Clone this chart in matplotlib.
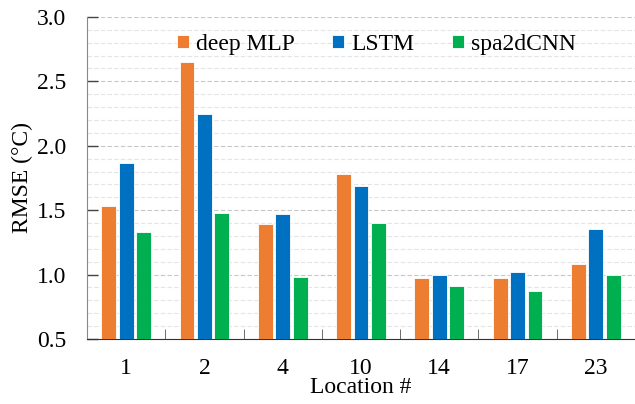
import numpy as np
import matplotlib
matplotlib.use("Agg")
import matplotlib.pyplot as plt
from matplotlib.ticker import MultipleLocator, FixedLocator

plt.rcParams['font.family'] = ['Liberation Serif', 'DejaVu Serif']

locations = ['1', '2', '4', '10', '14', '17', '23']
deep_mlp = [1.53, 2.65, 1.39, 1.78, 0.97, 0.97, 1.08]
lstm = [1.87, 2.25, 1.47, 1.69, 1.00, 1.02, 1.35]
spa2dcnn = [1.33, 1.48, 0.98, 1.40, 0.91, 0.87, 1.00]

series = [('deep MLP', deep_mlp, '#ED7D31'),
          ('LSTM', lstm, '#0070C0'),
          ('spa2dCNN', spa2dcnn, '#00B050')]

fig = plt.figure(figsize=(6.35, 4.04), dpi=100)
ax = fig.add_axes([0.137, 0.161, 0.863, 0.797])

x = np.arange(len(locations))
w = 0.19
step = 0.222
for i, (name, vals, col) in enumerate(series):
    ax.bar(x + (i - 1) * step, np.array(vals) - 0.5, w, bottom=0.5, color=col,
           edgecolor='white', linewidth=0.6, label=name, zorder=3)

ax.set_ylim(0.5, 3.0)
ax.set_xlim(-0.5, len(locations) - 0.5)
ax.yaxis.set_major_locator(MultipleLocator(0.5))
ax.yaxis.set_minor_locator(MultipleLocator(0.1))
ax.grid(which='major', axis='y', color='#c8c8c8', linestyle=(0, (4, 2)), linewidth=0.8, zorder=0)
ax.grid(which='minor', axis='y', color='#e4e4e4', linestyle=(0, (4, 2)), linewidth=0.8, zorder=0)
ax.set_yticklabels(['%.1f' % v for v in ax.get_yticks()])
ax.tick_params(axis='y', which='major', length=8, width=1, color='#444444',
               labelsize=17, direction='in', pad=15)
ax.tick_params(axis='y', which='minor', length=0)

ax.set_xticks(x)
ax.set_xticklabels(locations)
ax.xaxis.set_minor_locator(FixedLocator(np.arange(0.5, len(locations) - 1, 1.0)))
ax.tick_params(axis='x', which='major', length=0, labelsize=17, pad=14)
ax.tick_params(axis='x', which='minor', length=7, direction='in', color='#555555')

ax.spines['top'].set_visible(False)
ax.spines['right'].set_visible(False)
ax.spines['left'].set_color('#888888')
ax.spines['bottom'].set_color('#333333')

ax.set_ylabel('RMSE (°C)', fontsize=17, labelpad=3)
ax.set_xlabel('Location #', fontsize=17, labelpad=-1.5)

ax.legend(loc='center', bbox_to_anchor=(0.528, 0.915), ncol=3, frameon=False,
          fontsize=17, handlelength=0.5, handleheight=0.5, handletextpad=0.3,
          columnspacing=1.6)

fig.savefig('out.png', dpi=100)
